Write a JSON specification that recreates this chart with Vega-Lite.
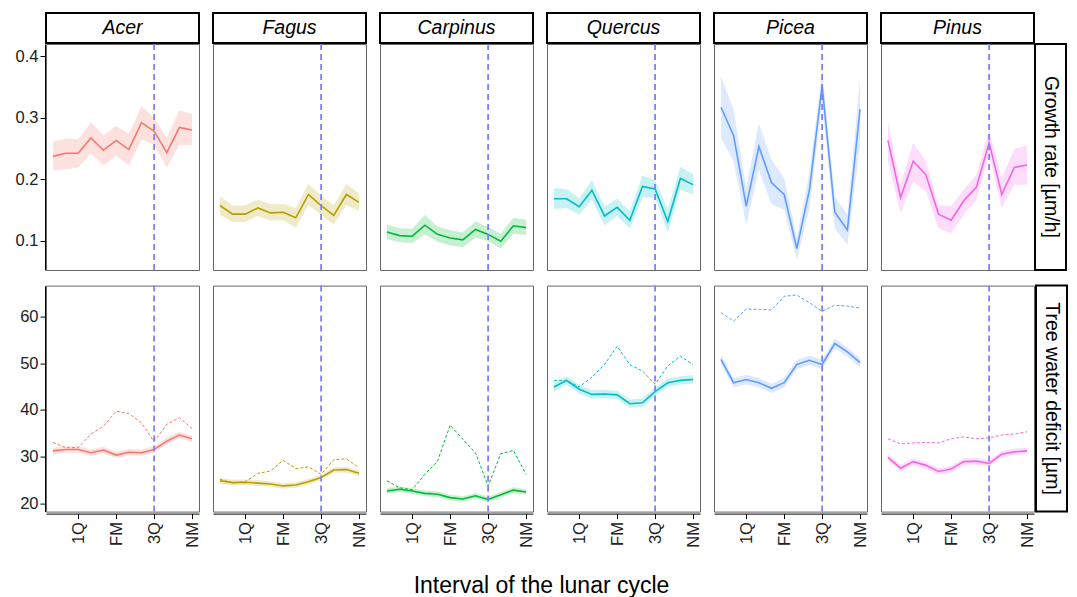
{
"$schema": "https://vega.github.io/schema/vega-lite/v6.json",
"padding": {"left": 15, "top": 12, "right": 2, "bottom": 2},
"title": {"text": "Interval of the lunar cycle", "orient": "bottom", "anchor": "middle", "fontSize": 23, "fontWeight": "normal", "font": "Liberation Sans", "color": "#000", "offset": 28},
"datasets": {
"st": [{"sp":"Acer","yy":0.5},{"sp":"Fagus","yy":0.5},{"sp":"Carpinus","yy":0.5},{"sp":"Quercus","yy":0.5},{"sp":"Picea","yy":0.5},{"sp":"Pinus","yy":0.5}],
"g": [
{"sp":"Acer","x":1,"m":0.237,"lo":0.214,"hi":0.261},{"sp":"Acer","x":2,"m":0.242,"lo":0.216,"hi":0.266},{"sp":"Acer","x":3,"m":0.242,"lo":0.219,"hi":0.265},{"sp":"Acer","x":4,"m":0.267,"lo":0.242,"hi":0.292},{"sp":"Acer","x":5,"m":0.247,"lo":0.222,"hi":0.271},{"sp":"Acer","x":6,"m":0.263,"lo":0.238,"hi":0.287},{"sp":"Acer","x":7,"m":0.248,"lo":0.222,"hi":0.273},{"sp":"Acer","x":8,"m":0.292,"lo":0.264,"hi":0.319},{"sp":"Acer","x":9,"m":0.278,"lo":0.256,"hi":0.300},{"sp":"Acer","x":10,"m":0.243,"lo":0.219,"hi":0.267},{"sp":"Acer","x":11,"m":0.284,"lo":0.256,"hi":0.312},{"sp":"Acer","x":12,"m":0.280,"lo":0.255,"hi":0.306},
{"sp":"Fagus","x":1,"m":0.157,"lo":0.142,"hi":0.172},{"sp":"Fagus","x":2,"m":0.143,"lo":0.130,"hi":0.157},{"sp":"Fagus","x":3,"m":0.143,"lo":0.130,"hi":0.157},{"sp":"Fagus","x":4,"m":0.153,"lo":0.140,"hi":0.167},{"sp":"Fagus","x":5,"m":0.145,"lo":0.132,"hi":0.159},{"sp":"Fagus","x":6,"m":0.146,"lo":0.133,"hi":0.160},{"sp":"Fagus","x":7,"m":0.137,"lo":0.121,"hi":0.153},{"sp":"Fagus","x":8,"m":0.175,"lo":0.158,"hi":0.192},{"sp":"Fagus","x":9,"m":0.157,"lo":0.142,"hi":0.173},{"sp":"Fagus","x":10,"m":0.141,"lo":0.126,"hi":0.157},{"sp":"Fagus","x":11,"m":0.175,"lo":0.158,"hi":0.192},{"sp":"Fagus","x":12,"m":0.162,"lo":0.148,"hi":0.177},
{"sp":"Carpinus","x":1,"m":0.114,"lo":0.102,"hi":0.126},{"sp":"Carpinus","x":2,"m":0.108,"lo":0.097,"hi":0.120},{"sp":"Carpinus","x":3,"m":0.107,"lo":0.096,"hi":0.119},{"sp":"Carpinus","x":4,"m":0.125,"lo":0.110,"hi":0.142},{"sp":"Carpinus","x":5,"m":0.110,"lo":0.098,"hi":0.123},{"sp":"Carpinus","x":6,"m":0.104,"lo":0.092,"hi":0.117},{"sp":"Carpinus","x":7,"m":0.101,"lo":0.089,"hi":0.113},{"sp":"Carpinus","x":8,"m":0.118,"lo":0.105,"hi":0.131},{"sp":"Carpinus","x":9,"m":0.110,"lo":0.099,"hi":0.122},{"sp":"Carpinus","x":10,"m":0.099,"lo":0.087,"hi":0.111},{"sp":"Carpinus","x":11,"m":0.124,"lo":0.111,"hi":0.137},{"sp":"Carpinus","x":12,"m":0.121,"lo":0.109,"hi":0.134},
{"sp":"Quercus","x":1,"m":0.168,"lo":0.151,"hi":0.185},{"sp":"Quercus","x":2,"m":0.168,"lo":0.153,"hi":0.184},{"sp":"Quercus","x":3,"m":0.155,"lo":0.142,"hi":0.168},{"sp":"Quercus","x":4,"m":0.182,"lo":0.166,"hi":0.198},{"sp":"Quercus","x":5,"m":0.140,"lo":0.125,"hi":0.155},{"sp":"Quercus","x":6,"m":0.154,"lo":0.140,"hi":0.168},{"sp":"Quercus","x":7,"m":0.133,"lo":0.119,"hi":0.148},{"sp":"Quercus","x":8,"m":0.188,"lo":0.170,"hi":0.206},{"sp":"Quercus","x":9,"m":0.184,"lo":0.170,"hi":0.198},{"sp":"Quercus","x":10,"m":0.131,"lo":0.113,"hi":0.150},{"sp":"Quercus","x":11,"m":0.201,"lo":0.183,"hi":0.220},{"sp":"Quercus","x":12,"m":0.191,"lo":0.175,"hi":0.208},
{"sp":"Picea","x":1,"m":0.317,"lo":0.267,"hi":0.367},{"sp":"Picea","x":2,"m":0.271,"lo":0.229,"hi":0.313},{"sp":"Picea","x":3,"m":0.156,"lo":0.126,"hi":0.185},{"sp":"Picea","x":4,"m":0.253,"lo":0.215,"hi":0.291},{"sp":"Picea","x":5,"m":0.194,"lo":0.159,"hi":0.231},{"sp":"Picea","x":6,"m":0.175,"lo":0.150,"hi":0.202},{"sp":"Picea","x":7,"m":0.087,"lo":0.069,"hi":0.104},{"sp":"Picea","x":8,"m":0.183,"lo":0.153,"hi":0.212},{"sp":"Picea","x":9,"m":0.352,"lo":0.326,"hi":0.374},{"sp":"Picea","x":10,"m":0.146,"lo":0.120,"hi":0.172},{"sp":"Picea","x":11,"m":0.117,"lo":0.093,"hi":0.142},{"sp":"Picea","x":12,"m":0.314,"lo":0.256,"hi":0.364},
{"sp":"Pinus","x":1,"m":0.263,"lo":0.229,"hi":0.294},{"sp":"Pinus","x":2,"m":0.170,"lo":0.145,"hi":0.191},{"sp":"Pinus","x":3,"m":0.229,"lo":0.196,"hi":0.259},{"sp":"Pinus","x":4,"m":0.207,"lo":0.180,"hi":0.229},{"sp":"Pinus","x":5,"m":0.143,"lo":0.120,"hi":0.158},{"sp":"Pinus","x":6,"m":0.133,"lo":0.112,"hi":0.156},{"sp":"Pinus","x":7,"m":0.165,"lo":0.142,"hi":0.183},{"sp":"Pinus","x":8,"m":0.187,"lo":0.166,"hi":0.207},{"sp":"Pinus","x":9,"m":0.259,"lo":0.240,"hi":0.280},{"sp":"Pinus","x":10,"m":0.175,"lo":0.153,"hi":0.202},{"sp":"Pinus","x":11,"m":0.219,"lo":0.191,"hi":0.249},{"sp":"Pinus","x":12,"m":0.223,"lo":0.191,"hi":0.255}
],
"t": [
{"sp":"Acer","s":"o","x":1,"m":31.2,"lo":30.5,"hi":31.9},{"sp":"Acer","s":"o","x":2,"m":31.5,"lo":30.8,"hi":32.2},{"sp":"Acer","s":"o","x":3,"m":31.5,"lo":30.8,"hi":32.2},{"sp":"Acer","s":"o","x":4,"m":30.8,"lo":30.1,"hi":31.5},{"sp":"Acer","s":"o","x":5,"m":31.4,"lo":30.7,"hi":32.1},{"sp":"Acer","s":"o","x":6,"m":30.3,"lo":29.6,"hi":31.0},{"sp":"Acer","s":"o","x":7,"m":30.9,"lo":30.2,"hi":31.6},{"sp":"Acer","s":"o","x":8,"m":30.8,"lo":30.1,"hi":31.5},{"sp":"Acer","s":"o","x":9,"m":31.5,"lo":30.8,"hi":32.2},{"sp":"Acer","s":"o","x":10,"m":33.3,"lo":32.6,"hi":34.0},{"sp":"Acer","s":"o","x":11,"m":34.6,"lo":33.9,"hi":35.3},{"sp":"Acer","s":"o","x":12,"m":33.8,"lo":33.1,"hi":34.5},
{"sp":"Fagus","s":"o","x":1,"m":24.8,"lo":24.2,"hi":25.4},{"sp":"Fagus","s":"o","x":2,"m":24.4,"lo":23.8,"hi":25.0},{"sp":"Fagus","s":"o","x":3,"m":24.5,"lo":23.9,"hi":25.1},{"sp":"Fagus","s":"o","x":4,"m":24.3,"lo":23.7,"hi":24.9},{"sp":"Fagus","s":"o","x":5,"m":24.1,"lo":23.5,"hi":24.7},{"sp":"Fagus","s":"o","x":6,"m":23.7,"lo":23.1,"hi":24.3},{"sp":"Fagus","s":"o","x":7,"m":23.9,"lo":23.3,"hi":24.5},{"sp":"Fagus","s":"o","x":8,"m":24.6,"lo":24.0,"hi":25.2},{"sp":"Fagus","s":"o","x":9,"m":25.5,"lo":24.9,"hi":26.1},{"sp":"Fagus","s":"o","x":10,"m":27.1,"lo":26.5,"hi":27.7},{"sp":"Fagus","s":"o","x":11,"m":27.2,"lo":26.6,"hi":27.8},{"sp":"Fagus","s":"o","x":12,"m":26.4,"lo":25.8,"hi":27.0},
{"sp":"Carpinus","s":"o","x":1,"m":22.6,"lo":22.0,"hi":23.2},{"sp":"Carpinus","s":"o","x":2,"m":23.0,"lo":22.4,"hi":23.6},{"sp":"Carpinus","s":"o","x":3,"m":22.6,"lo":22.0,"hi":23.2},{"sp":"Carpinus","s":"o","x":4,"m":22.1,"lo":21.5,"hi":22.7},{"sp":"Carpinus","s":"o","x":5,"m":21.9,"lo":21.3,"hi":22.5},{"sp":"Carpinus","s":"o","x":6,"m":21.2,"lo":20.6,"hi":21.8},{"sp":"Carpinus","s":"o","x":7,"m":20.9,"lo":20.3,"hi":21.5},{"sp":"Carpinus","s":"o","x":8,"m":21.6,"lo":21.0,"hi":22.2},{"sp":"Carpinus","s":"o","x":9,"m":20.8,"lo":20.2,"hi":21.4},{"sp":"Carpinus","s":"o","x":10,"m":21.8,"lo":21.2,"hi":22.4},{"sp":"Carpinus","s":"o","x":11,"m":22.8,"lo":22.2,"hi":23.4},{"sp":"Carpinus","s":"o","x":12,"m":22.4,"lo":21.8,"hi":23.0},
{"sp":"Quercus","s":"o","x":1,"m":44.9,"lo":44.0,"hi":45.8},{"sp":"Quercus","s":"o","x":2,"m":46.3,"lo":45.4,"hi":47.2},{"sp":"Quercus","s":"o","x":3,"m":44.4,"lo":43.5,"hi":45.3},{"sp":"Quercus","s":"o","x":4,"m":43.3,"lo":42.4,"hi":44.2},{"sp":"Quercus","s":"o","x":5,"m":43.4,"lo":42.5,"hi":44.3},{"sp":"Quercus","s":"o","x":6,"m":43.2,"lo":42.3,"hi":44.1},{"sp":"Quercus","s":"o","x":7,"m":41.3,"lo":40.4,"hi":42.2},{"sp":"Quercus","s":"o","x":8,"m":41.5,"lo":40.6,"hi":42.4},{"sp":"Quercus","s":"o","x":9,"m":43.9,"lo":43.0,"hi":44.8},{"sp":"Quercus","s":"o","x":10,"m":45.8,"lo":44.9,"hi":46.7},{"sp":"Quercus","s":"o","x":11,"m":46.3,"lo":45.4,"hi":47.2},{"sp":"Quercus","s":"o","x":12,"m":46.5,"lo":45.6,"hi":47.4},
{"sp":"Picea","s":"o","x":1,"m":50.8,"lo":49.8,"hi":51.8},{"sp":"Picea","s":"o","x":2,"m":45.8,"lo":44.8,"hi":46.8},{"sp":"Picea","s":"o","x":3,"m":46.5,"lo":45.5,"hi":47.5},{"sp":"Picea","s":"o","x":4,"m":45.8,"lo":44.8,"hi":46.8},{"sp":"Picea","s":"o","x":5,"m":44.6,"lo":43.6,"hi":45.6},{"sp":"Picea","s":"o","x":6,"m":45.8,"lo":44.8,"hi":46.8},{"sp":"Picea","s":"o","x":7,"m":49.7,"lo":48.7,"hi":50.7},{"sp":"Picea","s":"o","x":8,"m":50.6,"lo":49.6,"hi":51.6},{"sp":"Picea","s":"o","x":9,"m":49.7,"lo":48.7,"hi":50.7},{"sp":"Picea","s":"o","x":10,"m":54.2,"lo":53.2,"hi":55.2},{"sp":"Picea","s":"o","x":11,"m":52.4,"lo":51.4,"hi":53.4},{"sp":"Picea","s":"o","x":12,"m":50.1,"lo":49.1,"hi":51.1},
{"sp":"Pinus","s":"o","x":1,"m":29.8,"lo":29.1,"hi":30.5},{"sp":"Pinus","s":"o","x":2,"m":27.5,"lo":26.8,"hi":28.2},{"sp":"Pinus","s":"o","x":3,"m":28.9,"lo":28.2,"hi":29.6},{"sp":"Pinus","s":"o","x":4,"m":28.1,"lo":27.4,"hi":28.8},{"sp":"Pinus","s":"o","x":5,"m":26.8,"lo":26.1,"hi":27.5},{"sp":"Pinus","s":"o","x":6,"m":27.3,"lo":26.6,"hi":28.0},{"sp":"Pinus","s":"o","x":7,"m":28.9,"lo":28.2,"hi":29.6},{"sp":"Pinus","s":"o","x":8,"m":29.0,"lo":28.3,"hi":29.7},{"sp":"Pinus","s":"o","x":9,"m":28.5,"lo":27.8,"hi":29.2},{"sp":"Pinus","s":"o","x":10,"m":30.5,"lo":29.8,"hi":31.2},{"sp":"Pinus","s":"o","x":11,"m":31.0,"lo":30.3,"hi":31.7},{"sp":"Pinus","s":"o","x":12,"m":31.2,"lo":30.5,"hi":31.9},
{"sp":"Acer","s":"r","x":1,"m":33.0},{"sp":"Acer","s":"r","x":2,"m":31.9},{"sp":"Acer","s":"r","x":3,"m":31.9},{"sp":"Acer","s":"r","x":4,"m":34.8},{"sp":"Acer","s":"r","x":5,"m":36.5},{"sp":"Acer","s":"r","x":6,"m":39.7},{"sp":"Acer","s":"r","x":7,"m":39.2},{"sp":"Acer","s":"r","x":8,"m":37.2},{"sp":"Acer","s":"r","x":9,"m":33.2},{"sp":"Acer","s":"r","x":10,"m":36.9},{"sp":"Acer","s":"r","x":11,"m":38.3},{"sp":"Acer","s":"r","x":12,"m":36.0},
{"sp":"Fagus","s":"r","x":1,"m":25.1},{"sp":"Fagus","s":"r","x":2,"m":24.4},{"sp":"Fagus","s":"r","x":3,"m":24.6},{"sp":"Fagus","s":"r","x":4,"m":26.4},{"sp":"Fagus","s":"r","x":5,"m":26.9},{"sp":"Fagus","s":"r","x":6,"m":29.2},{"sp":"Fagus","s":"r","x":7,"m":27.4},{"sp":"Fagus","s":"r","x":8,"m":27.8},{"sp":"Fagus","s":"r","x":9,"m":26.2},{"sp":"Fagus","s":"r","x":10,"m":29.3},{"sp":"Fagus","s":"r","x":11,"m":29.5},{"sp":"Fagus","s":"r","x":12,"m":27.6},
{"sp":"Carpinus","s":"r","x":1,"m":24.8},{"sp":"Carpinus","s":"r","x":2,"m":23.3},{"sp":"Carpinus","s":"r","x":3,"m":22.9},{"sp":"Carpinus","s":"r","x":4,"m":26.2},{"sp":"Carpinus","s":"r","x":5,"m":29.0},{"sp":"Carpinus","s":"r","x":6,"m":36.7},{"sp":"Carpinus","s":"r","x":7,"m":33.7},{"sp":"Carpinus","s":"r","x":8,"m":30.8},{"sp":"Carpinus","s":"r","x":9,"m":23.7},{"sp":"Carpinus","s":"r","x":10,"m":30.6},{"sp":"Carpinus","s":"r","x":11,"m":31.3},{"sp":"Carpinus","s":"r","x":12,"m":26.2},
{"sp":"Quercus","s":"r","x":1,"m":46.3},{"sp":"Quercus","s":"r","x":2,"m":46.3},{"sp":"Quercus","s":"r","x":3,"m":44.9},{"sp":"Quercus","s":"r","x":4,"m":47.0},{"sp":"Quercus","s":"r","x":5,"m":49.7},{"sp":"Quercus","s":"r","x":6,"m":53.6},{"sp":"Quercus","s":"r","x":7,"m":49.7},{"sp":"Quercus","s":"r","x":8,"m":48.3},{"sp":"Quercus","s":"r","x":9,"m":45.5},{"sp":"Quercus","s":"r","x":10,"m":49.4},{"sp":"Quercus","s":"r","x":11,"m":51.5},{"sp":"Quercus","s":"r","x":12,"m":49.7},
{"sp":"Picea","s":"r","x":1,"m":60.8},{"sp":"Picea","s":"r","x":2,"m":59.0},{"sp":"Picea","s":"r","x":3,"m":61.6},{"sp":"Picea","s":"r","x":4,"m":61.5},{"sp":"Picea","s":"r","x":5,"m":61.4},{"sp":"Picea","s":"r","x":6,"m":64.3},{"sp":"Picea","s":"r","x":7,"m":64.6},{"sp":"Picea","s":"r","x":8,"m":62.9},{"sp":"Picea","s":"r","x":9,"m":61.1},{"sp":"Picea","s":"r","x":10,"m":62.4},{"sp":"Picea","s":"r","x":11,"m":62.2},{"sp":"Picea","s":"r","x":12,"m":61.8},
{"sp":"Pinus","s":"r","x":1,"m":33.8},{"sp":"Pinus","s":"r","x":2,"m":32.7},{"sp":"Pinus","s":"r","x":3,"m":32.9},{"sp":"Pinus","s":"r","x":4,"m":33.0},{"sp":"Pinus","s":"r","x":5,"m":32.9},{"sp":"Pinus","s":"r","x":6,"m":33.8},{"sp":"Pinus","s":"r","x":7,"m":34.2},{"sp":"Pinus","s":"r","x":8,"m":33.8},{"sp":"Pinus","s":"r","x":9,"m":34.0},{"sp":"Pinus","s":"r","x":10,"m":34.6},{"sp":"Pinus","s":"r","x":11,"m":34.8},{"sp":"Pinus","s":"r","x":12,"m":35.3}
]
},
"vconcat": [
{
"vconcat": [
{
"data": {"name": "st"},
"facet": {"column": {"field": "sp", "type": "nominal", "sort": ["Acer","Fagus","Carpinus","Quercus","Picea","Pinus"], "header": null}},
"spacing": {"column": 12},
"spec": {
"width": 153, "height": 30,
"view": {"stroke": "#000", "strokeWidth": 2, "fill": "white"},
"mark": {"type": "text", "fontSize": 19.5, "fontStyle": "italic", "color": "#000", "baseline": "middle", "font": "Liberation Sans"},
"encoding": {
"text": {"field": "sp"},
"y": {"field": "yy", "type": "quantitative", "scale": {"domain": [0, 1]}, "axis": {"values": [0.5], "labelExpr": "'0.4'", "labelColor": "transparent", "tickColor": "transparent", "domain": false, "title": null}}
}
}
},
{
"hconcat": [
{
"data": {"name": "g"},
"facet": {"column": {"field": "sp", "type": "nominal", "sort": ["Acer","Fagus","Carpinus","Quercus","Picea","Pinus"], "header": null}},
"spacing": {"column": 12},
"spec": {
"width": 153, "height": 226,
"layer": [
{"mark": {"type": "area", "opacity": 0.22}, "encoding": {
"x": {"field": "x", "type": "quantitative", "scale": {"domain": [0.45, 12.55], "nice": false, "zero": false}, "axis": null},
"y": {"field": "lo", "type": "quantitative", "scale": {"domain": [0.052, 0.42], "nice": false, "zero": false}, "axis": {"values": [0.1, 0.2, 0.3, 0.4], "format": ".1f", "title": null}},
"y2": {"field": "hi"},
"color": {"field": "sp", "type": "nominal", "scale": {"domain": ["Acer","Fagus","Carpinus","Quercus","Picea","Pinus"], "range": ["#F8766D","#B79F00","#00BA38","#00BFC4","#619CFF","#F564E3"]}, "legend": null}}},
{"mark": {"type": "line", "strokeWidth": 1.6}, "encoding": {
"x": {"field": "x", "type": "quantitative", "axis": null},
"y": {"field": "m", "type": "quantitative", "axis": {"values": [0.1, 0.2, 0.3, 0.4], "format": ".1f", "title": null}},
"color": {"field": "sp", "type": "nominal", "legend": null}}},
{"transform": [{"filter": "datum.x == 1"}], "mark": {"type": "rule", "color": "#7f7fff", "strokeWidth": 1.8, "strokeDash": [6, 4]}, "encoding": {"x": {"datum": 9}}}
]
}
},
{
"data": {"values": [{"t": "Growth rate [µm/h]"}]},
"width": 31, "height": 226,
"view": {"stroke": "#000", "strokeWidth": 2},
"mark": {"type": "text", "angle": 90, "fontSize": 19.5, "baseline": "middle", "align": "center", "color": "#000", "font": "Liberation Sans"},
"encoding": {"text": {"field": "t"}}
}
],
"spacing": -2
}
],
"spacing": -5
},
{
"hconcat": [
{
"data": {"name": "t"},
"facet": {"column": {"field": "sp", "type": "nominal", "sort": ["Acer","Fagus","Carpinus","Quercus","Picea","Pinus"], "header": null}},
"spacing": {"column": 12},
"spec": {
"width": 153, "height": 226,
"layer": [
{"transform": [{"filter": "datum.s == 'o'"}], "mark": {"type": "area", "opacity": 0.22}, "encoding": {
"x": {"field": "x", "type": "quantitative", "scale": {"domain": [0.45, 12.55], "nice": false, "zero": false}, "axis": {"values": [3, 6, 9, 12], "labelExpr": "datum.value == 3 ? '1Q' : datum.value == 6 ? 'FM' : datum.value == 9 ? '3Q' : 'NM'", "labelAngle": 270, "labelAlign": "right", "labelBaseline": "middle", "labelPadding": 3, "title": null}},
"y": {"field": "lo", "type": "quantitative", "scale": {"domain": [18.2, 66.6], "nice": false, "zero": false}, "axis": {"values": [20, 30, 40, 50, 60], "labelExpr": "'\u00a0' + datum.label", "title": null}},
"y2": {"field": "hi"},
"color": {"field": "sp", "type": "nominal", "scale": {"domain": ["Acer","Fagus","Carpinus","Quercus","Picea","Pinus"], "range": ["#F8766D","#B79F00","#00BA38","#00BFC4","#619CFF","#F564E3"]}, "legend": null}}},
{"transform": [{"filter": "datum.s == 'o'"}], "mark": {"type": "line", "strokeWidth": 1.6}, "encoding": {
"x": {"field": "x", "type": "quantitative"},
"y": {"field": "m", "type": "quantitative"},
"color": {"field": "sp", "type": "nominal", "legend": null}}},
{"transform": [{"filter": "datum.s == 'r'"}], "mark": {"type": "line", "strokeWidth": 1, "strokeDash": [3, 2]}, "encoding": {
"x": {"field": "x", "type": "quantitative"},
"y": {"field": "m", "type": "quantitative"},
"color": {"field": "sp", "type": "nominal", "legend": null}}},
{"transform": [{"filter": "datum.x == 1 && datum.s == 'o'"}], "mark": {"type": "rule", "color": "#7f7fff", "strokeWidth": 1.8, "strokeDash": [6, 4]}, "encoding": {"x": {"datum": 9}}}
]
}
},
{
"data": {"values": [{"t": "Tree water deficit [µm]"}]},
"width": 31, "height": 226,
"view": {"stroke": "#000", "strokeWidth": 2},
"mark": {"type": "text", "angle": 90, "fontSize": 19.5, "baseline": "middle", "align": "center", "color": "#000", "font": "Liberation Sans"},
"encoding": {"text": {"field": "t"}}
}
],
"spacing": -2
}
],
"spacing": 11.6,
"config": {
"font": "Liberation Sans",
"view": {"stroke": "#666", "strokeWidth": 1},
"axis": {"grid": false, "domainColor": "#000", "domainWidth": 1, "tickColor": "#000", "labelColor": "#222", "labelFontSize": 16.5, "tickSize": 5, "labelPadding": 2, "labelFont": "Liberation Sans"}
}
}
